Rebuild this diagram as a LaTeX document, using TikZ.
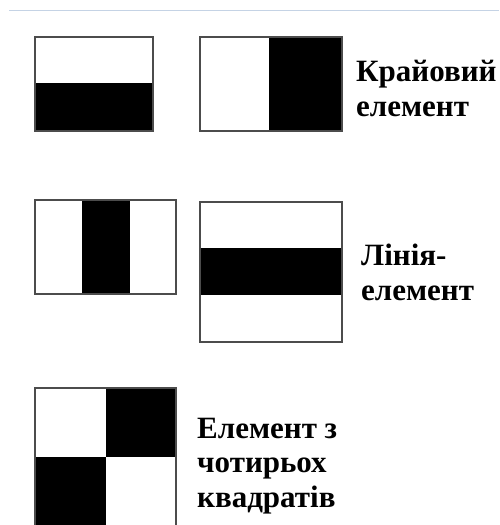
\documentclass[tikz,border=0pt]{standalone}
\usepackage{fontspec}
\setmainfont{Liberation Serif}

\tikzset{
  frame/.style={draw=black!70, line width=1.6pt},
  dark/.style={fill=black},
  elemtext/.style={font=\bfseries\fontsize{31}{34.5}\selectfont, align=left, anchor=base west, inner sep=0pt}
}

\begin{document}
\begin{tikzpicture}[x=1pt, y=-1pt]
    \useasboundingbox (0,0) rectangle (499,525);

    % thin rule at the top
    \draw[color={rgb,255:red,197;green,211;blue,229}, line width=1pt] (9,10) -- (499,10);

    % edge elements
    \coordinate (A) at (35,37);
    \coordinate (B) at (200,37);
    \fill[dark] (35,83) rectangle (153,131);
    \draw[frame] (A) rectangle (153,131);
    \fill[dark] (269,37) rectangle (342,131);
    \draw[frame] (B) rectangle (342,131);
    \node[elemtext] (edge) at (356,116) {Крайовий\\елемент};

    % line elements
    \coordinate (C) at (35,200);
    \coordinate (D) at (200,202);
    \fill[dark] (82,200) rectangle (130,294);
    \draw[frame] (C) rectangle (176,294);
    \fill[dark] (200,248) rectangle (342,295);
    \draw[frame] (D) rectangle (342,342);
    \node[elemtext] (line) at (361,300) {Лінія-\\елемент};

    % four-square element
    \coordinate (E) at (35,388);
    \fill[dark] (106,388) rectangle (176,457);
    \fill[dark] (35,457) rectangle (106,527);
    \draw[frame] (E) rectangle (176,527);
    \node[elemtext] (four) at (197,507) {Елемент з\\чотирьох\\квадратів};
\end{tikzpicture}
\end{document}
